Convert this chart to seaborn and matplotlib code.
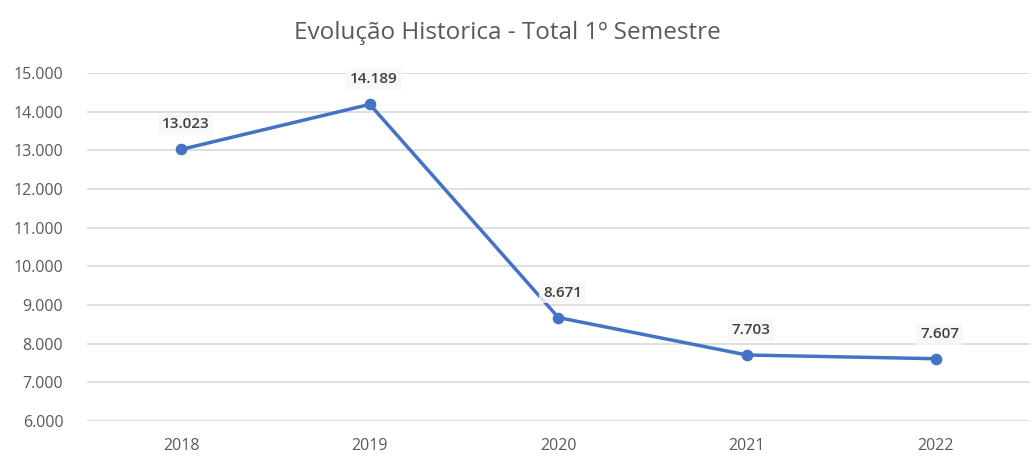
import matplotlib
matplotlib.use("Agg")
import matplotlib.pyplot as plt
import matplotlib.ticker as mticker
import seaborn as sns

anos = ["2018", "2019", "2020", "2021", "2022"]
totais = [13023, 14189, 8671, 7703, 7607]
rotulos = ["13.023", "14.189", "8.671", "7.703", "7.607"]

sns.set_theme(style="white")
plt.rcParams["font.family"] = ["Open Sans", "DejaVu Sans"]

fig = plt.figure(figsize=(10.35, 4.68), dpi=100)
ax = fig.add_axes([0.084, 0.100, 0.911, 0.744])

sns.pointplot(x=anos, y=totais, color="#4472C4", markers="o",
              linewidth=2.5, markersize=6.5, ax=ax)

for i, (v, t) in enumerate(zip(totais, rotulos)):
    ax.annotate(t, (i, v), xytext=(3, 18), textcoords="offset points",
                ha="center", va="center", fontsize=11, fontweight="semibold",
                color="#404040",
                bbox=dict(boxstyle="square,pad=0.25", fc="#f7f7f7", ec="none", alpha=0.85))

ax.set_ylim(5990, 15000)
ax.set_xlim(-0.5, 4.5)
ax.yaxis.set_major_locator(mticker.FixedLocator(range(6000, 15001, 1000)))
ax.yaxis.set_major_formatter(mticker.FuncFormatter(lambda v, p: f"{v:,.0f}".replace(",", ".")))
ax.grid(axis="y", color="#d9d9d9", linewidth=1.2)
ax.set_axisbelow(True)
for s in ax.spines.values():
    s.set_visible(False)
ax.tick_params(axis="both", length=0, labelsize=11.5, labelcolor="#595959")
ax.tick_params(axis="y", pad=17)
ax.tick_params(axis="x", pad=12)
ax.set_xlabel("")
ax.set_ylabel("")

fig.suptitle("Evolução Historica - Total 1º Semestre", x=0.49, y=0.955,
             fontsize=17.5, color="#595959")

fig.savefig("out.png", dpi=100, facecolor="white")
